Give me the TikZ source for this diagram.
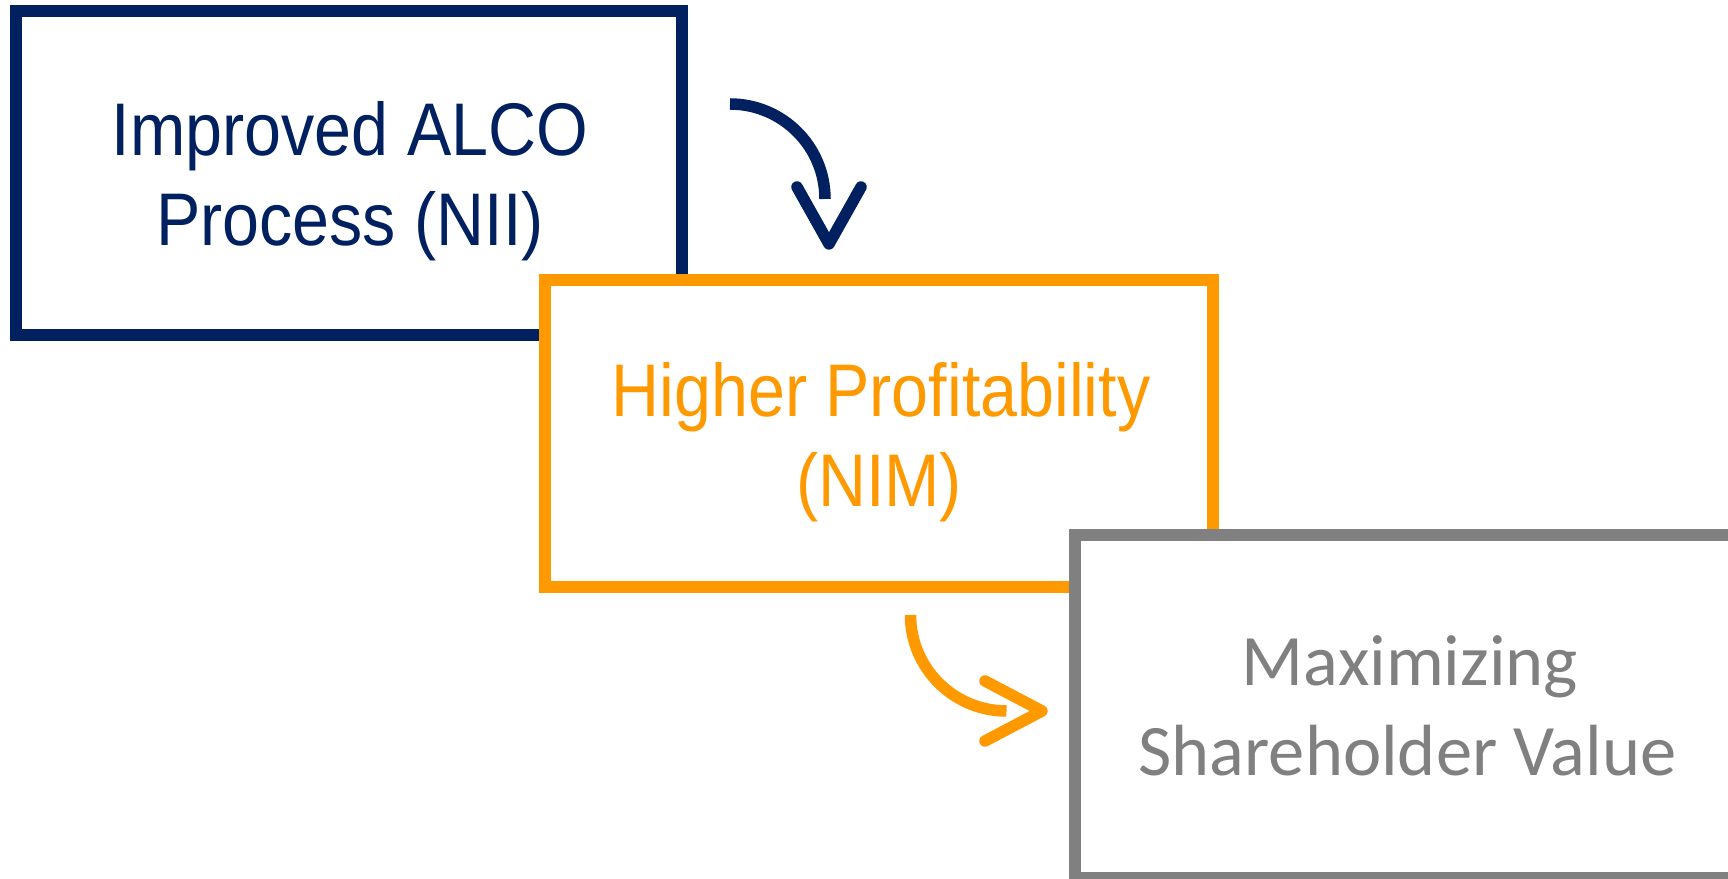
\documentclass[tikz,border=0pt]{standalone}
\usepackage{fontspec}
\newfontfamily\narrowfont[FakeStretch=0.89]{Liberation Sans}
\newfontfamily\calfont{Carlito}
\definecolor{boxnavy}{HTML}{002060}
\definecolor{boxorange}{HTML}{FF9900}
\definecolor{boxgray}{HTML}{808080}
\tikzset{
  boxshape/.style={draw, fill=white, line width=12pt, rectangle, inner sep=0pt, outer sep=0pt},
  narrowtext/.style={anchor=base, inner sep=0pt, font=\narrowfont\fontsize{74.6}{90}\selectfont},
  caltext/.style={anchor=base, inner sep=0pt, font=\calfont\fontsize{72.5}{88}\selectfont},
  arrowline/.style={line width=11.5pt, line join=round},
  chevron/.style={line width=11.5pt, line join=round, line cap=round}
}
\begin{document}
\begin{tikzpicture}[x=1pt,y=1pt]
\useasboundingbox (0,0) rectangle (1728,878);
\clip (0,0) rectangle (1728,878);
% boxes
\node[boxshape, draw=boxnavy, minimum width=666pt, minimum height=324pt] (b1) at (349,705) {};
\node[boxshape, draw=boxorange, minimum width=668pt, minimum height=307pt] (b2) at (879,444.5) {};
\node[boxshape, draw=boxgray, minimum width=665pt, minimum height=342.5pt] (b3) at (1407.5,171.25) {};
% texts
\node[narrowtext, text=boxnavy] (t1a) at (350,722.3) {Improved ALCO};
\node[narrowtext, text=boxnavy] (t1b) at (350,632) {Process (NII)};
\node[narrowtext, text=boxorange] (t2a) at (881,461.3) {Higher Profitability};
\node[narrowtext, text=boxorange] (t2b) at (879,371.3) {(NIM)};
\node[caltext, text=boxgray] (t3a) at (1410,192) {Maximizing};
\node[caltext, text=boxgray] (t3b) at (1407.5,102.3) {Shareholder Value};
% arrow 1 (navy)
\coordinate (a1s) at (730,774);
\coordinate (a1l) at (797,691);
\coordinate (a1t) at (829,634);
\coordinate (a1r) at (861,691);
\draw[arrowline, boxnavy] (a1s) arc[start angle=90, end angle=0, radius=95];
\draw[chevron, boxnavy] (a1l) -- (a1t) -- (a1r);
% arrow 2 (orange)
\coordinate (a2s) at (910.5,263);
\coordinate (a2u) at (985,197);
\coordinate (a2t) at (1042,167);
\coordinate (a2d) at (985,137);
\draw[arrowline, boxorange] (a2s) arc[start angle=180, end angle=270, radius=96];
\draw[chevron, boxorange] (a2u) -- (a2t) -- (a2d);
\end{tikzpicture}
\end{document}
